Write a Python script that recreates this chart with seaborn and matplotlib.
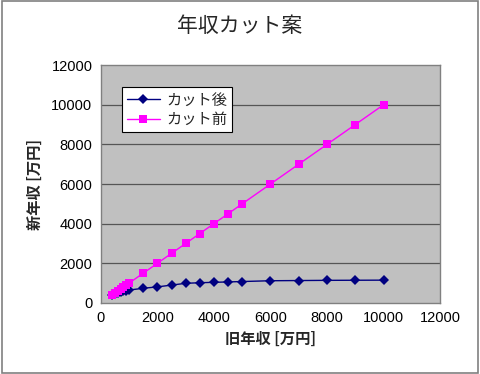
import numpy as np
import pandas as pd
import seaborn as sns
import matplotlib.pyplot as plt
from matplotlib.patches import Rectangle

# 旧年収 [万円]
old_income = [400, 500, 600, 700, 800, 900, 1000, 1500, 2000, 2500, 3000,
              3500, 4000, 4500, 5000, 6000, 7000, 8000, 9000, 10000]
# カット後
after_cut = [400, 460, 510, 550, 590, 620, 650, 740, 810, 900, 990,
             1020, 1040, 1060, 1080, 1120, 1130, 1140, 1145, 1150]
# カット前
before_cut = [400, 500, 600, 700, 800, 900, 1000, 1500, 2000, 2500, 3000,
              3500, 4000, 4500, 5000, 6000, 7000, 8000, 9000, 10000]

x_ticks = [0, 2000, 4000, 6000, 8000, 10000, 12000]
y_ticks = [0, 2000, 4000, 6000, 8000, 10000, 12000]

df = pd.DataFrame({'旧年収': old_income * 2,
                   '新年収': after_cut + before_cut,
                   '系列': ['カット後'] * len(old_income) + ['カット前'] * len(old_income)})

sns.set_style('white')
plt.rcParams['font.family'] = ['Noto Sans CJK JP', 'DejaVu Sans']

fig = plt.figure(figsize=(4.8, 3.74), dpi=100)
ax = fig.add_axes([0.210, 0.190, 0.707, 0.636])

# 外枠
fig.patches.append(Rectangle((0.004, 0.004), 0.992, 0.992, transform=fig.transFigure,
                             fill=False, edgecolor='#808080', linewidth=1.2))

ax.set_facecolor('#C0C0C0')
for y in y_ticks[1:-1]:
    ax.axhline(y, color='#555555', linewidth=0.9, zorder=1)

palette = {'カット後': '#000080', 'カット前': '#FF00FF'}
sns.lineplot(data=df, x='旧年収', y='新年収', hue='系列', style='系列',
             markers={'カット後': 'D', 'カット前': 's'}, dashes=False,
             palette=palette, linewidth=1.0, markersize=5.5, markeredgewidth=0,
             ax=ax, zorder=3)

ax.set_xlim(0, 12000)
ax.set_ylim(0, 12000)
ax.set_xticks(x_ticks)
ax.set_yticks(y_ticks)
ax.tick_params(axis='both', labelsize=10.5, colors='black', length=0, pad=6)
ax.tick_params(axis='x', direction='in', length=3, color='#333333')
for lbl in ax.get_xticklabels() + ax.get_yticklabels():
    lbl.set_family('Liberation Sans')
for s in ax.spines.values():
    s.set_color('#808080')
    s.set_linewidth(1.0)

ax.set_xlabel('旧年収 [万円]', fontsize=11, fontweight='bold', labelpad=4)
ax.set_ylabel('新年収 [万円]', fontsize=11, fontweight='bold', labelpad=6)
fig.text(0.5, 0.93, '年収カット案', ha='center', va='center', fontsize=15)

leg = ax.legend(loc='upper left', bbox_to_anchor=(0.04, 0.94), fontsize=11,
                frameon=True, fancybox=False, framealpha=1, edgecolor='black',
                handlelength=2.2, handletextpad=0.4, borderpad=0.3, labelspacing=0.15)
leg.get_frame().set_linewidth(0.8)

fig.savefig('out.png', dpi=100)
